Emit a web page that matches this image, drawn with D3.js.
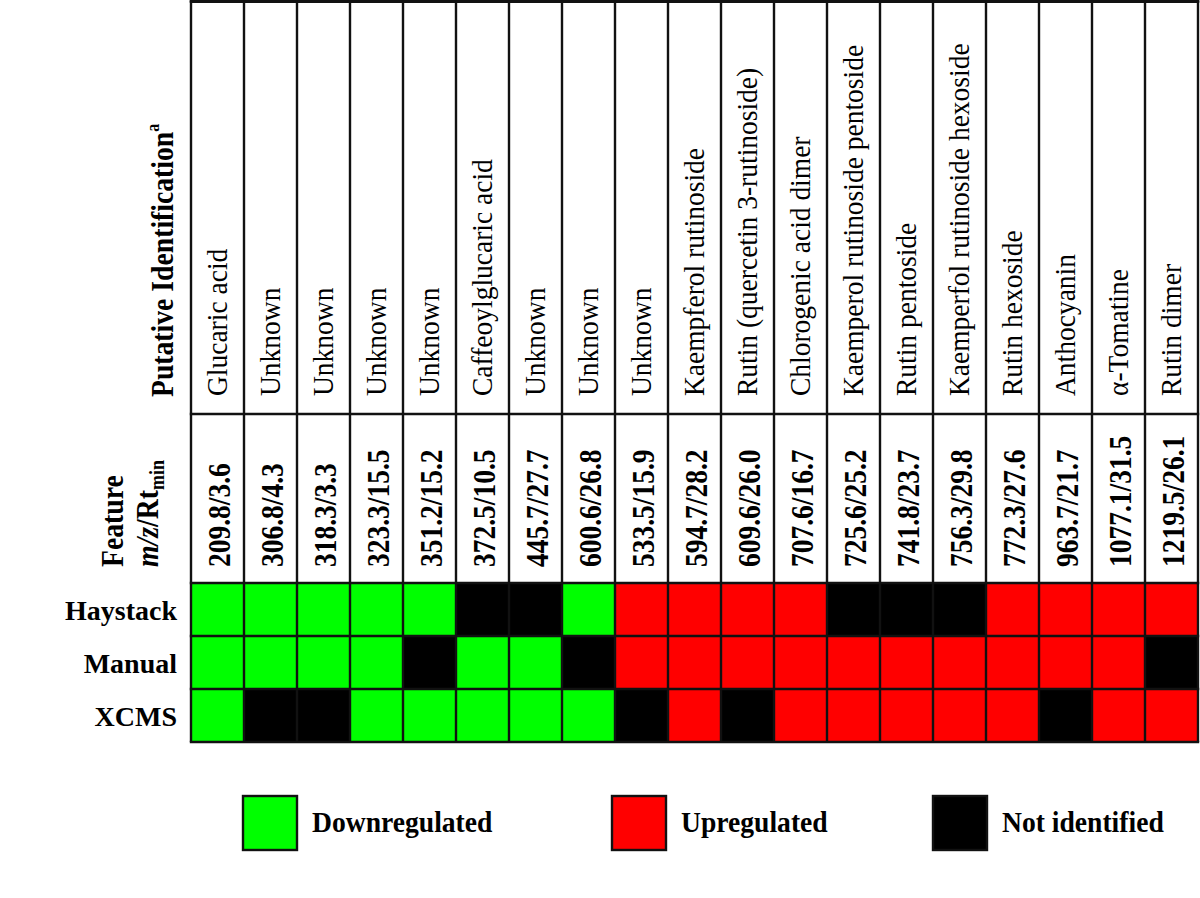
<!DOCTYPE html>
<html>
<head>
<meta charset="utf-8">
<script src="https://cdn.jsdelivr.net/npm/d3@7/dist/d3.min.js"></script>
<style>
html, body { margin: 0; padding: 0; background: #fff; }
svg { display: block; }
text { font-family: "Liberation Serif", "Times New Roman", serif; fill: #000; }
</style>
</head>
<body>
<svg id="chart" width="1200" height="898"></svg>
<script>
// ---- data ----
const features = ["209.8/3.6","306.8/4.3","318.3/3.3","323.3/15.5","351.2/15.2","372.5/10.5","445.7/27.7","600.6/26.8","533.5/15.9","594.7/28.2","609.6/26.0","707.6/16.7","725.6/25.2","741.8/23.7","756.3/29.8","772.3/27.6","963.7/21.7","1077.1/31.5","1219.5/26.1"];
const identifications = ["Glucaric acid","Unknown","Unknown","Unknown","Unknown","Caffeoylglucaric acid","Unknown","Unknown","Unknown","Kaempferol rutinoside","Rutin (quercetin 3-rutinoside)","Chlorogenic acid dimer","Kaemperol rutinoside pentoside","Rutin pentoside","Kaemperfol rutinoside hexoside","Rutin hexoside","Anthocyanin","\u03B1-Tomatine","Rutin dimer"];
const methods = ["Haystack","Manual","XCMS"];
// D = downregulated, U = upregulated, N = not identified
const haystack = ["D","D","D","D","D","N","N","D","U","U","U","U","N","N","N","U","U","U","U"];
const manual   = ["D","D","D","D","N","D","D","N","U","U","U","U","U","U","U","U","U","U","N"];
const xcms     = ["D","N","N","D","D","D","D","D","N","U","N","U","U","U","U","U","N","U","U"];
const statusKeys = ["D","U","N"];
const statusLabels = ["Downregulated","Upregulated","Not identified"];
const statusColors = ["#00ff00","#ff0000","#000000"];

const seriesByMethod = { Haystack: haystack, Manual: manual, XCMS: xcms };
const cells = [];
methods.forEach(m => seriesByMethod[m].forEach((s, i) => cells.push({ method: m, feature: features[i], status: s })));

// ---- layout ----
const svg = d3.select("#chart");
const left = 191, right = 1198;
const topY = 1, idBottom = 414, featBottom = 583, gridBottom = 742;

const x = d3.scaleBand().domain(d3.range(features.length)).range([left, right]).padding(0);
const xf = d3.scaleBand().domain(features).range([left, right]).padding(0);
const y = d3.scaleBand().domain(methods).range([featBottom, gridBottom]).padding(0);
const color = d3.scaleOrdinal().domain(statusKeys).range(statusColors);

// header backgrounds
svg.append("rect").attr("x", left).attr("y", topY).attr("width", right - left).attr("height", featBottom - topY)
  .attr("fill", "#fff");

// cells
svg.append("g").selectAll("rect").data(cells).join("rect")
  .attr("x", d => xf(d.feature))
  .attr("y", d => y(d.method))
  .attr("width", xf.bandwidth())
  .attr("height", y.bandwidth())
  .attr("fill", d => color(d.status));

// grid lines
const grid = svg.append("g").attr("stroke", "#111").attr("stroke-width", 2.4);
d3.range(features.length + 1).forEach(i => {
  const xx = i < features.length ? x(i) : right;
  grid.append("line").attr("x1", xx).attr("x2", xx).attr("y1", topY).attr("y2", gridBottom);
});
[topY, idBottom, featBottom].concat(methods.map(m => y(m) + y.bandwidth())).forEach(yy => {
  grid.append("line").attr("x1", left - 1.2).attr("x2", right + 1.2).attr("y1", yy).attr("y2", yy);
});
grid.append("line").attr("x1", left - 1.2).attr("x2", right + 1.2).attr("y1", topY + 0.5).attr("y2", topY + 0.5).attr("stroke-width", 3);

// identification labels (rotated)
svg.append("g").selectAll("text").data(identifications).join("text")
  .attr("transform", (d, i) => `translate(${x(i) + x.bandwidth() / 2 + 9},396) rotate(-90) scale(1,1.1)`)
  .attr("font-size", 27.5)
  .text(d => d);

// feature labels (rotated, bold)
svg.append("g").selectAll("text").data(features).join("text")
  .attr("transform", d => `translate(${xf(d) + xf.bandwidth() / 2 + 12},567) rotate(-90) scale(1,1.17)`)
  .attr("font-size", 27.5)
  .attr("font-weight", "bold")
  .text(d => d);

// header titles
const pt = svg.append("text")
  .attr("transform", "translate(173,397) rotate(-90) scale(1,1.15)")
  .attr("font-size", 27.7).attr("font-weight", "bold");
pt.append("tspan").text("Putative Identification");
pt.append("tspan").attr("font-size", 16).attr("dy", -12).text("a");

svg.append("text")
  .attr("transform", "translate(123,567) rotate(-90) scale(1,1.15)")
  .attr("font-size", 27.7).attr("font-weight", "bold").text("Feature");
const mz = svg.append("text")
  .attr("transform", "translate(158,567) rotate(-90) scale(1,1.15)")
  .attr("font-size", 27.7).attr("font-weight", "bold");
mz.append("tspan").attr("font-style", "italic").text("m/z");
mz.append("tspan").text("/Rt");
mz.append("tspan").attr("font-size", 18).attr("dy", 5).text("min");

// row labels
svg.append("g").selectAll("text").data(methods).join("text")
  .attr("x", 177)
  .attr("y", d => y(d) + y.bandwidth() / 2 + 10)
  .attr("text-anchor", "end")
  .attr("font-size", 28).attr("font-weight", "bold")
  .text(d => d);

// legend
const legendX = [243, 612, 933];
const lg = svg.append("g").selectAll("g").data(statusKeys).join("g")
  .attr("transform", (d, i) => `translate(${legendX[i]},796)`);
lg.append("rect").attr("width", 54).attr("height", 54)
  .attr("fill", d => color(d)).attr("stroke", "#111").attr("stroke-width", 2.4);
lg.append("text")
  .attr("transform", "translate(69,36) scale(1,1.08)")
  .attr("font-size", 27.6).attr("font-weight", "bold")
  .text((d, i) => statusLabels[i]);
</script>
</body>
</html>
